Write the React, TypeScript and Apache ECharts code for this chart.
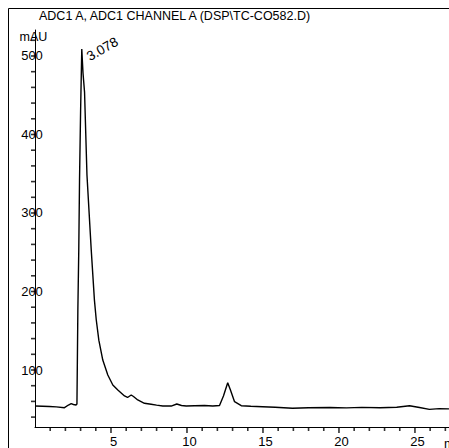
import React, { useEffect, useRef } from "react";
import * as echarts from "echarts";

const titleText = "ADC1 A, ADC1 CHANNEL A (DSP\\TC-CO582.D)";
const yUnit = "mAU";
const xUnit = "min";
const peakLabel = "3.078";
const peakTime = 3.078;
const peakValue = 509;

const times = [
  0, 0.5, 0.95, 1.4, 1.94, 2.2, 2.38, 2.53, 2.7, 2.76, 2.82, 2.88, 2.93, 3.0,
  3.078, 3.16, 3.26, 3.42, 3.7, 3.91, 4.03, 4.2, 4.46, 4.79, 5.12, 5.45, 5.67,
  5.89, 6.09, 6.33, 6.48, 6.76, 7.2, 7.64, 8.0, 8.41, 8.96, 9.33, 9.64, 9.95,
  10.5, 11.15, 11.7, 12.14, 12.4, 12.68, 12.86, 13.13, 13.57, 14.2, 14.97, 15.8,
  16.94, 18.0, 19.4, 20.5, 21.5, 22.7, 23.8, 24.64, 25.3, 25.95, 26.6, 27.24,
];
const values = [
  54.1, 53.8, 53.5, 53.0, 52.0, 55.4, 57.1, 56.1, 55.4, 56.7, 176, 253, 342, 430,
  509, 478, 454, 348, 253, 189, 164, 138, 112.7, 93.6, 80.9, 74.5, 70.7, 66.9, 65,
  68.2, 66.2, 61.8, 57.6, 56.3, 55.2, 54.1, 54.1, 56.7, 54.8, 54.1, 54.5, 54.8,
  54.2, 54.8, 66.9, 83.8, 74.5, 59.6, 54.5, 53.8, 53.2, 52.6, 51.2, 52.0, 52.2,
  51.8, 52.4, 52.0, 52.6, 54.5, 52.2, 49.9, 50.8, 50.5,
];

const xMin = 0;
const xMax = 27.24;
const yMin = 27.4;
const yMax = 533.1;
const xLabelValues = [5, 10, 15, 20, 25];
const xMinorTickValues = [
  1, 2, 3, 4, 6, 7, 8, 9, 11, 12, 13, 14, 16, 17, 18, 19, 21, 22, 23, 24, 26, 27,
];
const yLabelValues = [100, 200, 300, 400, 500];
const yTickValues = [
  40, 60, 80, 100, 120, 140, 160, 180, 200, 220, 240, 260, 280, 300, 320, 340,
  360, 380, 400, 420, 440, 460, 480, 500, 520,
];

const FONT = "Liberation Sans, Arial, sans-serif";

export default function App() {
  const ref = useRef<HTMLDivElement>(null);
  useEffect(() => {
    if (!ref.current) return;
    const chart = echarts.init(ref.current, null, { renderer: "svg" });
    const data = times.map((t, i) => [t, values[i]]);
    const tickSeries = (
      name: string,
      pts: number[][],
      size: number[],
      offset: number[]
    ) => ({
      type: "scatter",
      name,
      data: pts,
      symbol: "rect",
      symbolSize: size,
      symbolOffset: offset,
      itemStyle: { color: "#000" },
      clip: false,
      silent: true,
      z: 5,
    });
    chart.setOption({
      animation: false,
      backgroundColor: "#fff",
      grid: { left: 35, right: 0, top: 30, bottom: 21, containLabel: false },
      xAxis: {
        type: "value",
        min: xMin,
        max: xMax,
        interval: 1,
        axisLine: { show: true, onZero: false, lineStyle: { color: "#000", width: 1 } },
        axisTick: { show: false },
        axisLabel: {
          show: true,
          showMinLabel: false,
          showMaxLabel: false,
          formatter: (v: number) =>
            xLabelValues.indexOf(v) >= 0 ? String(v) : "",
          margin: 8,
          color: "#000",
          fontSize: 13,
          fontFamily: FONT,
          padding: [0, 0, 0, 5],
        },
        splitLine: { show: false },
      },
      yAxis: {
        type: "value",
        min: yMin,
        max: yMax,
        minInterval: 20,
        maxInterval: 20,
        axisLine: { show: true, onZero: false, lineStyle: { color: "#000", width: 1 } },
        axisTick: { show: false },
        axisLabel: {
          show: true,
          showMinLabel: false,
          showMaxLabel: false,
          formatter: (v: number) =>
            yLabelValues.indexOf(Math.round(v)) >= 0 ? String(Math.round(v)) : "",
          margin: 3,
          align: "center",
          color: "#000",
          fontSize: 13,
          fontFamily: FONT,
        },
        splitLine: { show: false },
      },
      graphic: [
        {
          type: "line",
          shape: { x1: 8.5, y1: 8.5, x2: 449, y2: 8.5 },
          style: { stroke: "#000", lineWidth: 1 },
        },
        {
          type: "line",
          shape: { x1: 8.5, y1: 8.5, x2: 8.5, y2: 448 },
          style: { stroke: "#000", lineWidth: 1 },
        },
        {
          type: "text",
          left: 39,
          top: 9,
          style: { text: titleText, fill: "#000", font: `12.5px ${FONT}` },
        },
        {
          type: "text",
          x: 33.5,
          y: 37,
          style: {
            text: yUnit,
            fill: "#000",
            font: `12.5px ${FONT}`,
            align: "center",
            verticalAlign: "middle",
          },
        },
        {
          type: "text",
          x: 444,
          y: 443,
          style: {
            text: xUnit,
            fill: "#000",
            font: `13px ${FONT}`,
            align: "left",
            verticalAlign: "middle",
          },
        },
      ],
      series: [
        {
          type: "line",
          data,
          showSymbol: false,
          symbol: "none",
          lineStyle: { color: "#000", width: 1.4 },
          z: 3,
          markPoint: {
            symbol: "circle",
            symbolSize: 1,
            itemStyle: { color: "rgba(0,0,0,0)" },
            data: [
              {
                coord: [peakTime, peakValue],
                label: {
                  show: true,
                  formatter: peakLabel,
                  position: [10, 15],
                  rotate: 30,
                  align: "left",
                  verticalAlign: "bottom",
                  color: "#000",
                  fontSize: 13.5,
                  fontFamily: FONT,
                },
              },
            ],
          },
        },
        tickSeries(
          "xMinorTicks",
          xMinorTickValues.map((v) => [v, yMin]),
          [1.6, 4],
          [0, 2]
        ),
        tickSeries(
          "xMajorTicks",
          xLabelValues.map((v) => [v, yMin]),
          [1.6, 6],
          [0, 3]
        ),
        tickSeries(
          "yTicks",
          yTickValues.map((v) => [xMin, v]),
          [4, 1.6],
          [-2, 0]
        ),
      ],
    });
    return () => chart.dispose();
  }, []);
  return (
    <div
      style={{
        position: "fixed",
        left: 0,
        top: 0,
        width: 449,
        height: 448,
        overflow: "hidden",
        background: "#fff",
      }}
    >
      <div ref={ref} style={{ width: 449, height: 448 }} />
    </div>
  );
}
